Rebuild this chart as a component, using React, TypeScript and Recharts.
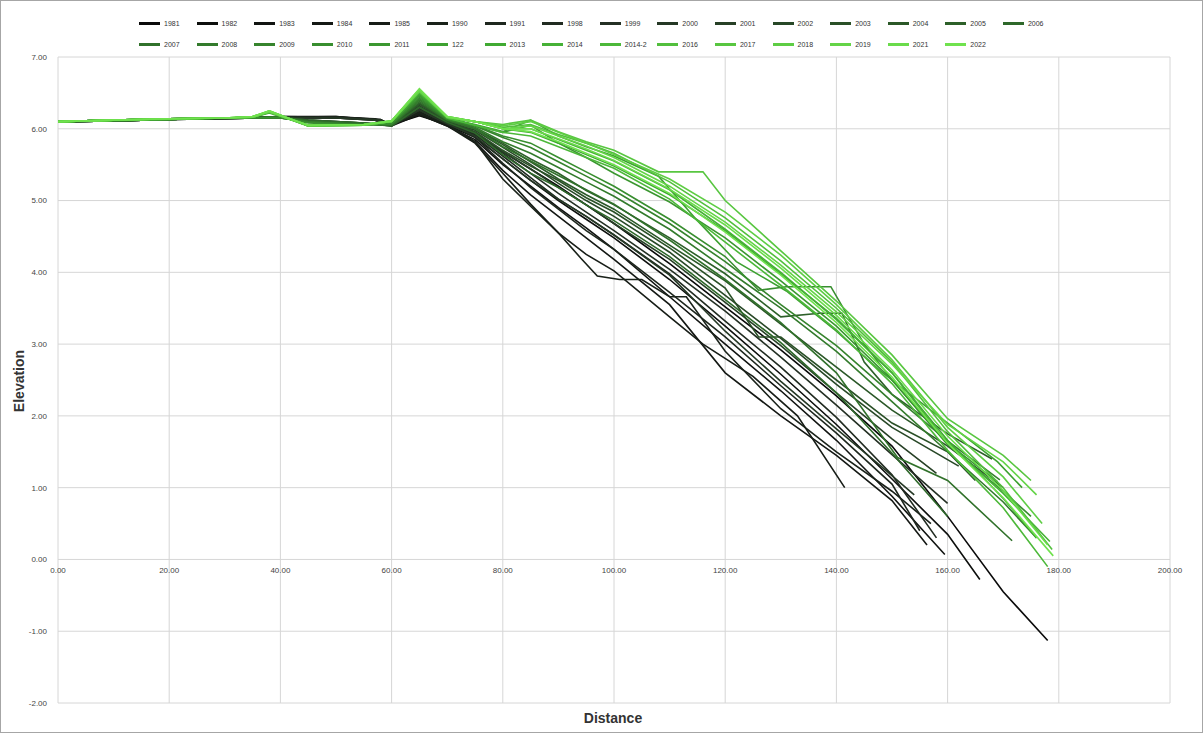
import { LineChart, Line, XAxis, YAxis, CartesianGrid } from "recharts";

if (typeof document !== "undefined") document.body.style.margin = "0";

const seriesNames = [
  "1981", "1982", "1983", "1984", "1985", "1990", "1991", "1998", "1999", "2000", "2001", "2002", "2003", "2004", "2005", "2006",
  "2007", "2008", "2009", "2010", "2011", "122", "2013", "2014", "2014-2", "2016", "2017", "2018", "2019", "2021", "2022",
];

type Pt = [number, number];

// older surveys (darkest)
const s1981: Pt[] = [[0, 6.1], [10, 6.11], [20, 6.13], [30, 6.15], [40, 6.16], [50, 6.16], [57, 6.13], [60, 6.06], [65, 6.18], [70, 6.06], [75, 5.92], [80, 5.68], [85, 5.44], [90, 5.2], [95, 4.94], [100, 4.68], [110, 4.12], [120, 3.52], [130, 2.92], [140, 2.28], [150, 1.58], [160, 0.6], [170, -0.45], [178, -1.13]];
const s1982: Pt[] = [[0, 6.1], [10, 6.11], [20, 6.14], [30, 6.15], [40, 6.17], [50, 6.17], [58, 6.12], [60, 6.05], [65, 6.22], [70, 6.05], [75, 5.88], [80, 5.58], [85, 5.28], [90, 5.0], [95, 4.74], [100, 4.48], [110, 3.9], [120, 3.25], [130, 2.58], [140, 1.88], [150, 1.12], [160, 0.35], [165.8, -0.28]];
const s1983: Pt[] = [[0, 6.1], [10, 6.12], [20, 6.13], [30, 6.14], [40, 6.16], [50, 6.15], [57, 6.12], [60, 6.04], [65, 6.2], [70, 6.04], [75, 5.85], [80, 5.5], [85, 5.2], [90, 4.9], [95, 4.62], [100, 4.32], [110, 3.66], [120, 3.0], [130, 2.35], [140, 1.66], [150, 0.88], [159.5, 0.07]];
const s1984: Pt[] = [[0, 6.1], [10, 6.11], [20, 6.13], [30, 6.15], [40, 6.15], [50, 6.16], [58, 6.13], [60, 6.05], [65, 6.24], [70, 6.05], [75, 5.82], [80, 5.42], [85, 5.08], [90, 4.78], [95, 4.48], [100, 4.18], [110, 3.55], [120, 2.6], [130, 2.0], [140, 1.45], [150, 0.82], [156.3, 0.2]];
const s1985: Pt[] = [[0, 6.1], [10, 6.12], [20, 6.14], [30, 6.15], [40, 6.17], [50, 6.16], [57, 6.14], [60, 6.06], [65, 6.2], [70, 6.04], [75, 5.8], [80, 5.38], [85, 4.95], [90, 4.55], [95, 4.25], [100, 4.02], [110, 3.38], [116, 3.0], [125, 2.55], [133, 2.0], [141.5, 1.0]];
const s1990: Pt[] = [[0, 6.1], [10, 6.11], [20, 6.13], [30, 6.14], [40, 6.16], [50, 6.17], [58, 6.13], [60, 6.05], [65, 6.22], [70, 6.06], [75, 5.82], [80, 5.3], [85, 4.92], [90, 4.55], [94, 4.2], [97, 3.95], [101, 3.9], [105, 3.9], [110, 3.66], [113, 3.66], [120, 2.9], [130, 2.1], [140, 1.5], [150, 0.95], [157, 0.5]];
const s1991: Pt[] = [[0, 6.1], [10, 6.12], [20, 6.14], [30, 6.15], [40, 6.16], [50, 6.15], [57, 6.12], [60, 6.05], [65, 6.26], [70, 6.08], [75, 5.88], [80, 5.52], [85, 5.18], [90, 4.88], [95, 4.58], [100, 4.32], [110, 3.72], [120, 3.1], [130, 2.42], [140, 1.76], [150, 1.05], [155, 0.4]];
const s1998: Pt[] = [[0, 6.1], [10, 6.11], [20, 6.13], [30, 6.15], [40, 6.16], [50, 6.16], [58, 6.12], [60, 6.06], [65, 6.25], [70, 6.08], [75, 5.92], [80, 5.62], [85, 5.32], [90, 5.02], [95, 4.78], [100, 4.52], [110, 3.98], [120, 3.32], [130, 2.68], [140, 1.98], [150, 1.18], [158, 0.3]];
const s1999: Pt[] = [[0, 6.1], [10, 6.12], [20, 6.14], [30, 6.15], [40, 6.15], [50, 6.15], [57, 6.13], [60, 6.05], [65, 6.28], [70, 6.08], [75, 5.94], [80, 5.66], [85, 5.38], [90, 5.1], [95, 4.84], [100, 4.58], [110, 4.04], [120, 3.46], [130, 2.82], [140, 2.15], [150, 1.46], [160, 0.78]];
const s2000: Pt[] = [[0, 6.1], [10, 6.11], [20, 6.13], [30, 6.14], [40, 6.16], [50, 6.15], [58, 6.12], [60, 6.04], [65, 6.26], [70, 6.07], [75, 5.9], [80, 5.58], [85, 5.28], [90, 5.02], [95, 4.78], [100, 4.52], [110, 3.96], [120, 3.18], [130, 2.48], [140, 1.82], [148, 1.3], [154, 0.9]];

// middle surveys
const s2001: Pt[] = [[0, 6.1], [10, 6.11], [20, 6.13], [30, 6.15], [40, 6.16], [45, 6.12], [55, 6.08], [60, 6.04], [65, 6.3], [70, 6.1], [75, 5.95], [80, 5.68], [85, 5.44], [90, 5.18], [95, 4.94], [100, 4.68], [110, 4.18], [120, 3.58], [130, 2.98], [140, 2.32], [150, 1.68], [158, 1.2]];
const s2002: Pt[] = [[0, 6.1], [10, 6.12], [20, 6.13], [30, 6.15], [40, 6.15], [45, 6.11], [55, 6.07], [60, 6.05], [65, 6.32], [70, 6.1], [75, 5.98], [80, 5.74], [85, 5.5], [90, 5.24], [95, 5.0], [100, 4.78], [110, 4.28], [120, 3.68], [130, 3.08], [140, 2.44], [150, 1.84], [162, 1.3]];
const s2003: Pt[] = [[0, 6.1], [10, 6.11], [20, 6.14], [30, 6.15], [40, 6.16], [45, 6.12], [55, 6.08], [60, 6.05], [65, 6.34], [70, 6.11], [75, 5.96], [80, 5.7], [85, 5.48], [90, 5.28], [95, 5.04], [100, 4.84], [110, 4.34], [120, 3.78], [126, 3.1], [130, 3.1], [140, 2.5], [150, 1.9], [160, 1.5], [165, 1.1]];
const s2004: Pt[] = [[0, 6.1], [10, 6.12], [20, 6.13], [30, 6.14], [40, 6.16], [45, 6.1], [55, 6.07], [60, 6.04], [65, 6.35], [70, 6.12], [75, 6.0], [80, 5.78], [85, 5.54], [90, 5.3], [95, 5.08], [100, 4.88], [110, 4.38], [120, 3.88], [130, 3.28], [140, 2.68], [150, 2.08], [160, 1.58], [170, 1.0]];
const s2005: Pt[] = [[0, 6.1], [10, 6.11], [20, 6.13], [30, 6.15], [40, 6.15], [45, 6.11], [55, 6.08], [60, 6.05], [65, 6.36], [70, 6.12], [75, 6.0], [80, 5.8], [85, 5.58], [90, 5.38], [95, 5.14], [100, 4.94], [110, 4.48], [120, 3.98], [130, 3.38], [137, 3.43], [141, 3.43], [145, 2.75], [150, 2.3], [160, 1.75], [168, 1.4]];
const s2006: Pt[] = [[0, 6.1], [10, 6.12], [20, 6.14], [30, 6.15], [40, 6.16], [45, 6.12], [55, 6.08], [60, 6.04], [65, 6.3], [70, 6.09], [75, 5.94], [80, 5.64], [85, 5.38], [90, 5.18], [95, 4.94], [100, 4.72], [110, 4.22], [120, 3.62], [130, 3.02], [140, 2.32], [150, 1.48], [160, 0.6]];
const s2007: Pt[] = [[0, 6.1], [10, 6.11], [20, 6.13], [30, 6.15], [40, 6.15], [45, 6.1], [55, 6.06], [60, 6.05], [65, 6.38], [70, 6.12], [75, 6.0], [80, 5.75], [85, 5.55], [90, 5.35], [95, 5.15], [100, 4.95], [110, 4.45], [120, 3.9], [130, 3.3], [140, 2.6], [151, 1.42], [160, 1.1], [171.6, 0.26]];
const s2008: Pt[] = [[0, 6.1], [10, 6.12], [20, 6.14], [30, 6.15], [40, 6.16], [45, 6.1], [55, 6.06], [60, 6.06], [65, 6.4], [70, 6.13], [75, 6.02], [80, 5.82], [85, 5.66], [90, 5.46], [95, 5.26], [100, 5.06], [110, 4.6], [120, 4.05], [130, 3.5], [140, 2.9], [150, 2.2], [160, 1.5], [170, 0.8], [176, 0.3]];
const s2009: Pt[] = [[0, 6.1], [10, 6.11], [20, 6.13], [30, 6.15], [40, 6.15], [45, 6.09], [55, 6.06], [60, 6.07], [65, 6.42], [70, 6.13], [75, 6.04], [80, 5.88], [85, 5.74], [90, 5.54], [95, 5.34], [100, 5.14], [110, 4.68], [120, 4.15], [130, 3.55], [140, 2.98], [150, 2.3], [160, 1.65], [169.4, 1.11]];
const s2010: Pt[] = [[0, 6.1], [10, 6.12], [20, 6.13], [30, 6.15], [40, 6.16], [45, 6.08], [55, 6.05], [60, 6.07], [65, 6.44], [70, 6.14], [75, 6.05], [80, 5.9], [85, 5.8], [90, 5.6], [95, 5.4], [100, 5.2], [110, 4.74], [120, 4.22], [126, 3.75], [131, 3.8], [139, 3.8], [145, 3.0], [150, 2.5], [160, 1.6], [170, 0.95], [175, 0.6]];

// recent surveys (lightest)
const s2011: Pt[] = [[0, 6.1], [10, 6.12], [20, 6.14], [30, 6.15], [35, 6.16], [38, 6.22], [41, 6.15], [45, 6.05], [55, 6.05], [60, 6.09], [65, 6.46], [70, 6.15], [75, 6.05], [80, 5.95], [85, 6.05], [90, 5.8], [95, 5.6], [100, 5.38], [110, 4.98], [120, 4.48], [130, 3.88], [140, 3.25], [150, 2.5], [160, 1.62], [169, 1.08]];
const s122: Pt[] = [[0, 6.1], [10, 6.12], [20, 6.13], [30, 6.15], [35, 6.16], [38, 6.23], [41, 6.16], [45, 6.04], [55, 6.06], [60, 6.1], [65, 6.48], [70, 6.15], [75, 6.06], [80, 5.96], [85, 6.12], [90, 5.9], [95, 5.75], [100, 5.62], [108, 5.34], [115, 4.72], [122, 4.15], [131, 3.74], [140, 3.18], [148, 2.62], [155, 2.2], [162, 1.78], [169, 1.36], [173.4, 1.0]];
const s2013: Pt[] = [[0, 6.1], [10, 6.12], [20, 6.14], [30, 6.15], [35, 6.16], [38, 6.24], [41, 6.15], [45, 6.04], [55, 6.05], [60, 6.1], [65, 6.5], [70, 6.16], [75, 6.1], [80, 6.0], [85, 5.95], [90, 5.8], [95, 5.64], [100, 5.48], [110, 5.08], [120, 4.58], [130, 3.98], [140, 3.36], [150, 2.6], [160, 1.66], [170, 0.85], [176, 0.3]];
const s2014: Pt[] = [[0, 6.1], [10, 6.12], [20, 6.14], [30, 6.15], [35, 6.17], [38, 6.24], [41, 6.16], [45, 6.05], [55, 6.06], [60, 6.1], [65, 6.5], [70, 6.16], [75, 6.1], [80, 6.0], [85, 6.0], [90, 5.85], [95, 5.7], [100, 5.55], [110, 5.15], [120, 4.6], [130, 4.0], [140, 3.34], [150, 2.6], [160, 1.62], [170, 0.92], [178.4, 0.25]];
const s2014b: Pt[] = [[0, 6.1], [10, 6.12], [20, 6.13], [30, 6.15], [35, 6.16], [38, 6.23], [41, 6.15], [45, 6.04], [55, 6.05], [60, 6.1], [65, 6.52], [70, 6.15], [75, 6.05], [80, 5.95], [85, 5.9], [90, 5.75], [95, 5.6], [100, 5.45], [110, 5.02], [120, 4.42], [130, 3.82], [140, 3.2], [150, 2.45], [160, 1.52], [170, 0.72], [178, -0.1]];
const s2016: Pt[] = [[0, 6.1], [10, 6.12], [20, 6.14], [30, 6.15], [35, 6.16], [38, 6.25], [41, 6.16], [45, 6.05], [55, 6.06], [60, 6.11], [65, 6.54], [70, 6.16], [75, 6.1], [80, 6.02], [85, 6.06], [90, 5.92], [95, 5.8], [100, 5.66], [110, 5.26], [120, 4.76], [130, 4.16], [140, 3.5], [150, 2.75], [160, 1.78], [170, 1.0], [178.8, 0.14]];
const s2017: Pt[] = [[0, 6.1], [10, 6.12], [20, 6.14], [30, 6.15], [35, 6.17], [38, 6.24], [41, 6.16], [45, 6.04], [55, 6.05], [60, 6.1], [65, 6.53], [70, 6.17], [75, 6.1], [80, 6.06], [85, 6.12], [90, 5.96], [95, 5.82], [100, 5.7], [108, 5.4], [116, 5.4], [120, 5.0], [130, 4.3], [140, 3.6], [150, 2.85], [160, 1.96], [170, 1.45], [175, 1.1]];
const s2018: Pt[] = [[0, 6.1], [10, 6.12], [20, 6.14], [30, 6.15], [35, 6.16], [38, 6.23], [41, 6.15], [45, 6.05], [55, 6.06], [60, 6.11], [65, 6.55], [70, 6.17], [75, 6.1], [80, 6.04], [85, 6.1], [90, 5.95], [95, 5.8], [100, 5.64], [110, 5.3], [120, 4.84], [130, 4.24], [140, 3.55], [150, 2.78], [160, 1.84], [170, 1.15], [177, 0.5]];
const s2019: Pt[] = [[0, 6.1], [10, 6.12], [20, 6.14], [30, 6.15], [35, 6.17], [38, 6.25], [41, 6.16], [45, 6.04], [55, 6.05], [60, 6.1], [65, 6.52], [70, 6.16], [75, 6.1], [80, 6.0], [85, 6.04], [90, 5.9], [95, 5.76], [100, 5.6], [110, 5.2], [120, 4.7], [130, 4.1], [140, 3.45], [150, 2.72], [160, 1.88], [170, 1.36], [176, 0.9]];
const s2021: Pt[] = [[0, 6.1], [10, 6.12], [20, 6.14], [30, 6.15], [35, 6.16], [38, 6.24], [41, 6.15], [45, 6.05], [55, 6.06], [60, 6.1], [65, 6.54], [70, 6.16], [75, 6.1], [80, 6.0], [85, 6.0], [90, 5.86], [95, 5.72], [100, 5.56], [110, 5.16], [120, 4.66], [130, 4.06], [140, 3.4], [150, 2.64], [160, 1.72], [170, 0.96], [178, 0.2]];
const s2022: Pt[] = [[0, 6.1], [10, 6.12], [20, 6.14], [30, 6.15], [35, 6.17], [38, 6.25], [41, 6.16], [45, 6.05], [55, 6.06], [60, 6.11], [65, 6.56], [70, 6.17], [75, 6.1], [80, 6.0], [85, 5.96], [90, 5.82], [95, 5.66], [100, 5.5], [110, 5.1], [120, 4.56], [130, 3.96], [140, 3.3], [150, 2.54], [160, 1.62], [170, 0.86], [179, 0.05]];

const seriesPoints: Pt[][] = [
  s1981, s1982, s1983, s1984, s1985, s1990, s1991, s1998, s1999, s2000, s2001, s2002, s2003, s2004, s2005, s2006,
  s2007, s2008, s2009, s2010, s2011, s122, s2013, s2014, s2014b, s2016, s2017, s2018, s2019, s2021, s2022,
];

const xTicks = [0, 20, 40, 60, 80, 100, 120, 140, 160, 180, 200];
const yTicks = [-2, -1, 0, 1, 2, 3, 4, 5, 6, 7];

const W = 1203;
const H = 733;
const PLOT_LEFT = 58;
const PLOT_RIGHT = 33;
const PLOT_TOP = 57;
const PLOT_BOTTOM = 30;
const PLOT_H = H - PLOT_TOP - PLOT_BOTTOM;
const Y_MIN = -2;
const Y_MAX = 7;
const FONT = "'Liberation Sans', Arial, sans-serif";

// near black -> dark grey-green -> bright green
const STOPS: [number, number[]][] = [
  [0, [10, 10, 10]],
  [8, [36, 48, 36]],
  [15, [46, 104, 42]],
  [22, [64, 170, 50]],
  [30, [112, 226, 78]],
];

function shade(i: number) {
  for (let k = 1; k < STOPS.length; k++) {
    const [i1, c1] = STOPS[k];
    const [i0, c0] = STOPS[k - 1];
    if (i <= i1) {
      const t = (i - i0) / (i1 - i0);
      const c = c0.map((v, j) => Math.round(v + (c1[j] - v) * t));
      return `rgb(${c[0]},${c[1]},${c[2]})`;
    }
  }
  return "rgb(112,226,78)";
}

// distance labels sit on the y = 0 line, Excel style
const zeroY = PLOT_TOP + (PLOT_H * (Y_MAX - 0)) / (Y_MAX - Y_MIN);

function XTick(props: any) {
  const { x, payload } = props;
  return (
    <text x={x} y={zeroY + 13} textAnchor="middle" fontSize={8} fill="#444" fontFamily={FONT}>
      {Number(payload.value).toFixed(2)}
    </text>
  );
}

export default function App() {
  return (
    <div
      style={{
        position: "relative",
        width: W,
        height: H,
        background: "#fff",
        boxSizing: "border-box",
        border: "1px solid #a6a6a6",
        fontFamily: FONT,
      }}
    >
      <div style={{ position: "absolute", left: 138, top: 12, width: 940, display: "flex", flexWrap: "wrap" }}>
        {seriesNames.map((name, i) => (
          <div key={name} style={{ width: 57.6, height: 21, display: "flex", alignItems: "center", fontSize: 7, color: "#333" }}>
            <span style={{ display: "inline-block", width: 21, height: 2.5, background: shade(i), marginRight: 4 }} />
            {name}
          </div>
        ))}
      </div>

      <div style={{ position: "absolute", left: 0, top: 0 }}>
        <LineChart width={W - 2} height={H - 2} margin={{ top: PLOT_TOP - 1, right: PLOT_RIGHT - 1, bottom: 0, left: 0 }}>
          <CartesianGrid stroke="#d6d6d6" strokeWidth={1} />
          <XAxis
            type="number"
            dataKey="x"
            domain={[0, 200]}
            ticks={xTicks}
            height={PLOT_BOTTOM - 1}
            axisLine={false}
            tickLine={false}
            tick={<XTick />}
            allowDataOverflow
          />
          <YAxis
            type="number"
            dataKey="y"
            domain={[Y_MIN, Y_MAX]}
            ticks={yTicks}
            width={PLOT_LEFT - 1}
            axisLine={false}
            tickLine={false}
            tickSize={0}
            tickMargin={11}
            tick={{ fontSize: 8, fill: "#444", fontFamily: FONT }}
            tickFormatter={(v: number) => v.toFixed(2)}
            allowDataOverflow
          />
          {seriesPoints.map((pts, i) => (
            <Line
              key={seriesNames[i]}
              name={seriesNames[i]}
              data={pts.map(([x, y]) => ({ x, y }))}
              dataKey="y"
              type="linear"
              stroke={shade(i)}
              strokeWidth={1.6}
              dot={false}
              isAnimationActive={false}
            />
          ))}
        </LineChart>
      </div>

      <div
        style={{
          position: "absolute",
          left: 18,
          top: 380,
          transform: "translate(-50%, -50%) rotate(-90deg)",
          fontSize: 14,
          fontWeight: "bold",
          color: "#333",
        }}
      >
        Elevation
      </div>
      <div
        style={{
          position: "absolute",
          left: 612,
          top: 717,
          transform: "translate(-50%, -50%)",
          fontSize: 14,
          fontWeight: "bold",
          color: "#333",
        }}
      >
        Distance
      </div>
    </div>
  );
}
